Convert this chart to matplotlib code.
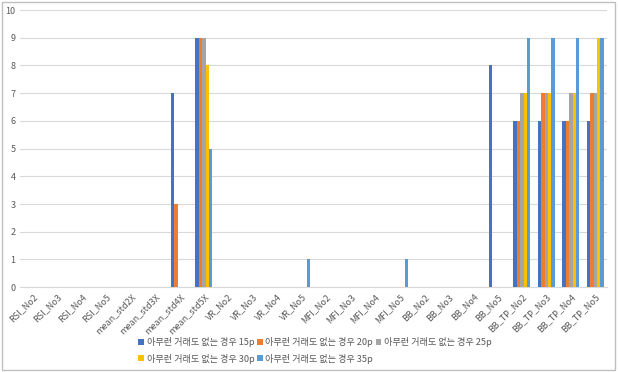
import numpy as np
import matplotlib.pyplot as plt
from matplotlib.patches import Rectangle

plt.rcParams['font.family'] = ['Noto Sans CJK KR', 'DejaVu Sans']

categories = ["RSI_No2", "RSI_No3", "RSI_No4", "RSI_No5",
              "mean_std2X", "mean_std3X", "mean_std4X", "mean_std5X",
              "VR_No2", "VR_No3", "VR_No4", "VR_No5",
              "MFI_No2", "MFI_No3", "MFI_No4", "MFI_No5",
              "BB_No2", "BB_No3", "BB_No4", "BB_No5",
              "BB_TP_No2", "BB_TP_No3", "BB_TP_No4", "BB_TP_No5"]

series_names = ["아무런 거래도 없는 경우 15p", "아무런 거래도 없는 경우 20p",
                "아무런 거래도 없는 경우 25p", "아무런 거래도 없는 경우 30p",
                "아무런 거래도 없는 경우 35p"]

p15 = [0, 0, 0, 0, 0, 0, 7, 9, 0, 0, 0, 0, 0, 0, 0, 0, 0, 0, 0, 8, 6, 6, 6, 6]
p20 = [0, 0, 0, 0, 0, 0, 3, 9, 0, 0, 0, 0, 0, 0, 0, 0, 0, 0, 0, 0, 6, 7, 6, 7]
p25 = [0, 0, 0, 0, 0, 0, 0, 9, 0, 0, 0, 0, 0, 0, 0, 0, 0, 0, 0, 0, 7, 7, 7, 7]
p30 = [0, 0, 0, 0, 0, 0, 0, 8, 0, 0, 0, 0, 0, 0, 0, 0, 0, 0, 0, 0, 7, 7, 7, 9]
p35 = [0, 0, 0, 0, 0, 0, 0, 5, 0, 0, 0, 1, 0, 0, 0, 1, 0, 0, 0, 0, 9, 9, 9, 9]

colors = ["#4472C4", "#ED7D31", "#A5A5A5", "#FFC000", "#5B9BD5"]
txt = "#595959"

fig = plt.figure(figsize=(6.18, 3.72), dpi=100)
ax = fig.add_axes([0.033, 0.228, 0.95, 0.745])

x = np.arange(len(categories))
w = 0.14
handles = []
for i, vals in enumerate([p15, p20, p25, p30, p35]):
    b = ax.bar(x + (i - 2) * w, vals, w, color=colors[i], label=series_names[i], zorder=3)
    handles.append(b)

ax.set_xlim(-0.5, len(categories) - 0.5)
ax.set_ylim(0, 10)
ax.set_yticks(range(11))
ax.yaxis.grid(True, color="#D9D9D9", linewidth=0.8, zorder=0)
for s in ["top", "right", "left"]:
    ax.spines[s].set_visible(False)
ax.spines["bottom"].set_color("#D9D9D9")
ax.tick_params(axis="both", length=0, colors=txt, labelsize=6.5)
ax.set_xticks(x)
ax.set_xticklabels(categories, rotation=45, ha="right", rotation_mode="anchor")

order = [0, 3, 1, 4, 2]
fig.legend([handles[k] for k in order], [series_names[k] for k in order],
           ncol=3, loc="center", bbox_to_anchor=(0.51, 0.058), frameon=False,
           fontsize=6.6, labelcolor=txt, handlelength=0.6, handleheight=0.6,
           handletextpad=0.3, columnspacing=0.3, labelspacing=0.7)

fig.patches.append(Rectangle((0.003, 0.005), 0.992, 0.99, transform=fig.transFigure,
                             fill=False, edgecolor="#BFBFBF", linewidth=1))

fig.savefig("out.png", dpi=100)
